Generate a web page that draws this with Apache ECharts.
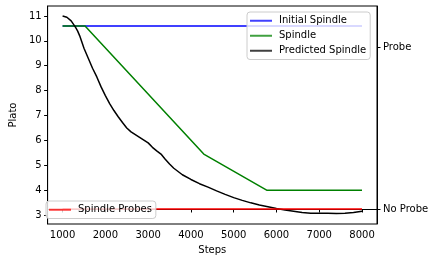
<!DOCTYPE html>
<html>
<head>
<meta charset="utf-8">
<script src="https://cdn.jsdelivr.net/npm/echarts@6/dist/echarts.min.js"></script>
<style>
html,body{margin:0;padding:0;background:#fff;}
#chart{width:435px;height:262px;}
</style>
</head>
<body>
<div id="chart"></div>
<script>
// ---- data ----
var xTicks = [1000, 2000, 3000, 4000, 5000, 6000, 7000, 8000];
var yTicks = [3, 4, 5, 6, 7, 8, 9, 10, 11];
var probeTicks = [0, 1];
var probeLabels = ['No Probe', 'Probe'];

var initialSteps = [1000, 8000];
var initialValues = [10.6, 10.6];

var spindleSteps = [1000, 1525, 4300, 5770, 8000];
var spindleValues = [10.6, 10.6, 5.45, 4.0, 4.0];

var predSteps = [1000, 1100, 1200, 1300, 1350, 1400, 1450, 1500, 1600, 1700, 1800, 1900, 2000, 2100, 2200, 2300, 2400, 2500, 2600, 2800, 3000, 3100, 3200, 3300, 3400, 3500, 3600, 3800, 4000, 4200, 4400, 4600, 4800, 5000, 5200, 5400, 5600, 5800, 6000, 6200, 6400, 6600, 6800, 7000, 7200, 7400, 7600, 7800, 8000];
var predValues = [11.00, 10.95, 10.80, 10.55, 10.40, 10.20, 9.95, 9.70, 9.30, 8.90, 8.55, 8.15, 7.80, 7.48, 7.20, 6.95, 6.72, 6.50, 6.34, 6.12, 5.90, 5.72, 5.58, 5.45, 5.24, 5.05, 4.88, 4.62, 4.43, 4.26, 4.12, 3.97, 3.83, 3.70, 3.59, 3.49, 3.40, 3.33, 3.26, 3.20, 3.15, 3.10, 3.07, 3.07, 3.07, 3.06, 3.07, 3.10, 3.15];

var probeSteps = [1000, 8000];
var probeValues = [0, 0];

function pairs(xs, ys) { return xs.map(function (x, i) { return [x, ys[i]]; }); }

var FONT = 'DejaVu Sans';
var legendCommon = {
  orient: 'vertical',
  icon: 'rect', itemWidth: 22, itemHeight: 2, itemGap: 3.5,
  padding: [3, 4, 3, 3],
  backgroundColor: 'rgba(255,255,255,0.8)', borderColor: '#cccccc', borderWidth: 1, borderRadius: 3,
  textStyle: {color: '#000', fontSize: 10, fontFamily: FONT, lineHeight: 11.5, padding: [0, 0, 0, 2]},
  itemStyle: {opacity: 0.75}
};
var chart = echarts.init(document.getElementById('chart'), null, {renderer: 'canvas'});
chart.setOption({
  animation: false,
  backgroundColor: '#fff',
  textStyle: {fontFamily: FONT},
  grid: {left: 41, top: 6, width: 336, height: 218, show: true, borderColor: '#000', borderWidth: 1, backgroundColor: 'transparent'},
  xAxis: {
    type: 'value', min: 650, max: 8350,
    name: 'Steps', nameLocation: 'middle', nameGap: 21,
    nameTextStyle: {color: '#000', fontSize: 10, fontFamily: FONT},
    axisLine: {show: true, lineStyle: {color: '#000', width: 1}},
    axisTick: {show: true, length: 3.5, customValues: xTicks, lineStyle: {color: '#000'}},
    axisLabel: {customValues: xTicks, margin: 6, color: '#000', fontSize: 10, fontFamily: FONT,
      formatter: function (v) { return String(v); }},
    splitLine: {show: false}
  },
  yAxis: [{
    type: 'value', min: 2.64, max: 11.40, position: 'left',
    name: 'Plato', nameLocation: 'middle', nameGap: 24, nameRotate: 90,
    nameTextStyle: {color: '#000', fontSize: 10, fontFamily: FONT},
    axisLine: {show: true, lineStyle: {color: '#000', width: 1}},
    axisTick: {show: true, length: 3.5, customValues: yTicks, lineStyle: {color: '#000'}},
    axisLabel: {customValues: yTicks, margin: 6, color: '#000', fontSize: 10, fontFamily: FONT,
      formatter: function (v) { return String(v); }},
    splitLine: {show: false}
  }, {
    type: 'value', min: -0.0926, max: 1.253, position: 'right',
    axisLine: {show: true, lineStyle: {color: '#000', width: 1}},
    axisTick: {show: true, length: 3.5, customValues: probeTicks, lineStyle: {color: '#000'}},
    axisLabel: {customValues: probeTicks, margin: 6, color: '#000', fontSize: 10, fontFamily: FONT,
      formatter: function (v) { var i = probeTicks.indexOf(v); return i >= 0 ? probeLabels[i] : ''; }},
    splitLine: {show: false}
  }],
  legend: [
    Object.assign({}, legendCommon, {left: 247, top: 12, data: ['Initial Spindle', 'Spindle', 'Predicted Spindle']}),
    Object.assign({}, legendCommon, {left: 46, top: 201, data: ['Spindle Probes']})
  ],
  series: [{
    name: 'Initial Spindle', type: 'line', yAxisIndex: 0, data: pairs(initialSteps, initialValues),
    symbol: 'none', color: '#0000ff', lineStyle: {color: '#0000ff', width: 1.5}
  }, {
    name: 'Spindle', type: 'line', yAxisIndex: 0, data: pairs(spindleSteps, spindleValues),
    symbol: 'none', color: '#008000', lineStyle: {color: '#008000', width: 1.5}
  }, {
    name: 'Predicted Spindle', type: 'line', yAxisIndex: 0, data: pairs(predSteps, predValues),
    symbol: 'none', color: '#000000', lineStyle: {color: '#000000', width: 1.5}
  }, {
    name: 'Spindle Probes', type: 'line', yAxisIndex: 1, data: pairs(probeSteps, probeValues),
    symbol: 'none', color: '#ff0000', lineStyle: {color: '#ff0000', width: 1.5}
  }]
});
</script>
</body>
</html>
